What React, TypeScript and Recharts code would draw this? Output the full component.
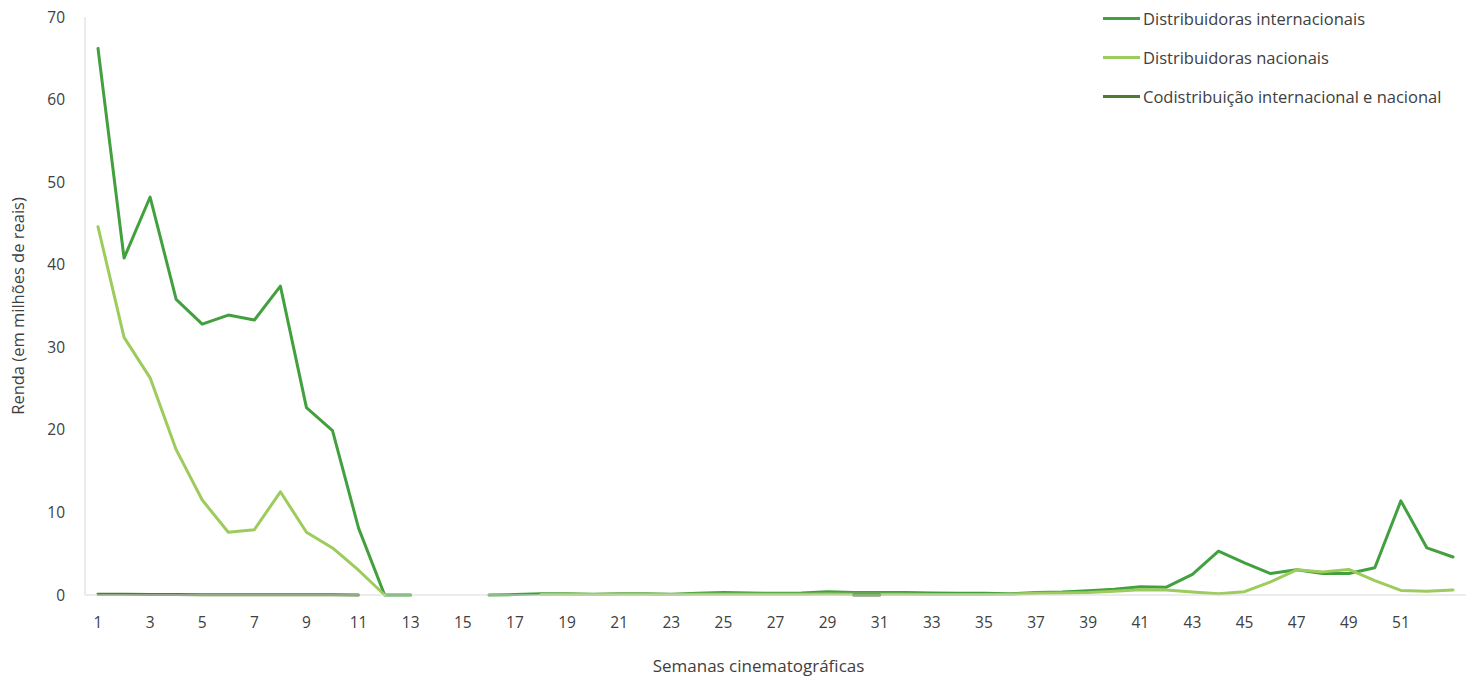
import { LineChart, Line, XAxis, YAxis } from 'recharts';

const weeks = [
  1, 2, 3, 4, 5, 6, 7, 8, 9, 10, 11, 12, 13, 14, 15, 16, 17, 18, 19, 20, 21, 22, 23, 24, 25, 26, 27,
  28, 29, 30, 31, 32, 33, 34, 35, 36, 37, 38, 39, 40, 41, 42, 43, 44, 45, 46, 47, 48, 49, 50, 51, 52, 53,
];

// renda semanal, em milhões de reais (null = sem dados)
const internacionais = [
  66.2, 40.8, 48.2, 35.8, 32.8, 33.9, 33.3, 37.4, 22.7, 19.9, 8.1, 0, 0, null, null, 0, 0.05, 0.15,
  0.15, 0.1, 0.15, 0.15, 0.1, 0.2, 0.3, 0.25, 0.2, 0.25, 0.4, 0.3, 0.3, 0.3, 0.25, 0.2, 0.2, 0.15,
  0.3, 0.35, 0.5, 0.7, 1.0, 0.95, 2.5, 5.3, 3.9, 2.6, 3.05, 2.6, 2.6, 3.3, 11.4, 5.7, 4.6,
];

const nacionais = [
  44.6, 31.2, 26.3, 17.6, 11.5, 7.6, 7.9, 12.5, 7.6, 5.7, 3.0, 0, null, null, null, null, null, 0.05,
  0.08, 0.05, 0.08, 0.08, 0.06, 0.08, 0.1, 0.08, 0.08, 0.1, 0.12, 0.1, 0.08, 0.08, 0.06, 0.05, 0.06,
  0.1, 0.2, 0.25, 0.3, 0.45, 0.65, 0.6, 0.35, 0.15, 0.4, 1.6, 3.05, 2.8, 3.1, 1.75, 0.55, 0.45, 0.6,
];

const codistribuicao = [
  0.1, 0.08, 0.06, 0.05, 0.04, 0.03, 0.03, 0.03, 0.02, 0.02, 0.01, null, null, null, null, null, null,
  null, null, null, null, null, null, null, null, null, null, null, null, 0.0, 0.0, null, null, null,
  null, null, null, null, null, null, null, null, null, null, null, null, null, null, null, null, null,
  null, null,
];

const xTicks = [1, 3, 5, 7, 9, 11, 13, 15, 17, 19, 21, 23, 25, 27, 29, 31, 33, 35, 37, 39, 41, 43, 45, 47, 49, 51];
const yTicks = [0, 10, 20, 30, 40, 50, 60, 70];

const series = [
  { key: 'internacionais', name: 'Distribuidoras internacionais', color: '#43a03f' },
  { key: 'nacionais', name: 'Distribuidoras nacionais', color: '#9dcb5c' },
  { key: 'codistribuicao', name: 'Codistribuição internacional e nacional', color: '#4f7a31' },
];

const data = weeks.map((w, i) => ({
  semana: w,
  internacionais: internacionais[i],
  nacionais: nacionais[i],
  codistribuicao: codistribuicao[i],
}));

const FONT = '"Open Sans", sans-serif';
const TEXT = '#404040';

function LegendBox() {
  return (
    <div style={{ position: 'absolute', left: 1103, top: -1, fontFamily: FONT, fontSize: 16.5, color: TEXT, whiteSpace: 'nowrap' }}>
      {series.map(s => (
        <div key={s.key} style={{ display: 'flex', alignItems: 'center', height: 39 }}>
          <span style={{ display: 'inline-block', width: 37, height: 3, background: s.color, marginRight: 3 }} />
          <span>{s.name}</span>
        </div>
      ))}
    </div>
  );
}

export default function App() {
  return (
    <div style={{ position: 'absolute', left: 0, top: 0, width: 1466, height: 676, background: '#fff' }}>
      <LineChart width={1466} height={676} data={data} margin={{ top: 17, right: 0, bottom: 0, left: 0 }}>
        <XAxis
          dataKey="semana"
          ticks={xTicks}
          interval={0}
          padding={{ left: 13, right: 13 }}
          height={81}
          tickLine={false}
          axisLine={{ stroke: '#d9d9d9', strokeWidth: 1 }}
          tick={{ fill: TEXT, fontSize: 15.5, fontFamily: FONT }}
          tickMargin={16}
          label={{ value: 'Semanas cinematográficas', position: 'insideBottom', offset: 4, dx: -17, fill: TEXT, fontSize: 17, fontFamily: FONT }}
        />
        <YAxis
          domain={[0, 70]}
          ticks={yTicks}
          width={85}
          tickLine={false}
          axisLine={{ stroke: '#d9d9d9', strokeWidth: 1 }}
          tick={{ fill: TEXT, fontSize: 15.5, fontFamily: FONT }}
          tickMargin={14}
          label={{ value: 'Renda (em milhões de reais)', angle: -90, position: 'insideLeft', offset: 18, fill: TEXT, fontSize: 16.5, fontFamily: FONT, style: { textAnchor: 'middle' } }}
        />
        {series.map(s => (
          <Line
            key={s.key}
            dataKey={s.key}
            name={s.name}
            stroke={s.color}
            strokeWidth={3}
            strokeLinecap="round"
            strokeLinejoin="round"
            dot={false}
            activeDot={false}
            connectNulls={false}
            type="linear"
            isAnimationActive={false}
          />
        ))}
      </LineChart>
      <LegendBox />
    </div>
  );
}
